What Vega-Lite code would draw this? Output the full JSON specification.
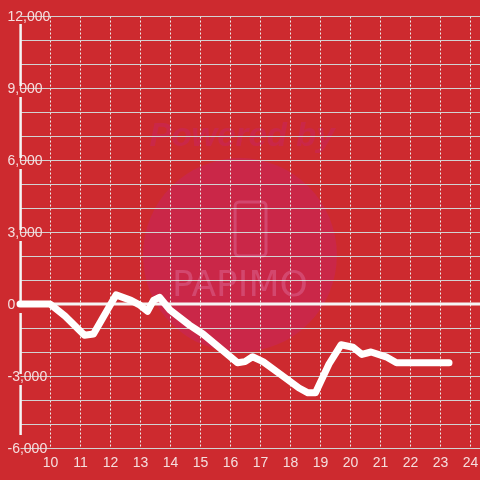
{
  "$schema": "https://vega.github.io/schema/vega-lite/v6.json",
  "width": 460,
  "height": 432,
  "autosize": {"type": "none"},
  "padding": {"left": 20, "top": 16, "right": 0, "bottom": 32},
  "background": "#cd2a2f",
  "config": {
    "view": {"stroke": null},
    "font": "Liberation Sans",
    "axis": {"labelFont": "Liberation Sans", "labelFontSize": 14, "labelColor": "#f5dede", "labelOverlap": false, "labelFlush": false, "domain": false, "ticks": false, "tickSize": 0, "title": null}
  },
  "datasets": {
    "series": [
      {"hour": 9, "value": 0},
      {"hour": 10, "value": 0},
      {"hour": 10.5, "value": -500},
      {"hour": 11.15, "value": -1300},
      {"hour": 11.45, "value": -1250},
      {"hour": 12.2, "value": 380},
      {"hour": 12.7, "value": 150},
      {"hour": 13.0, "value": -50},
      {"hour": 13.25, "value": -300},
      {"hour": 13.45, "value": 150},
      {"hour": 13.65, "value": 280},
      {"hour": 14.0, "value": -250},
      {"hour": 14.65, "value": -880},
      {"hour": 15.1, "value": -1250},
      {"hour": 16.25, "value": -2450},
      {"hour": 16.5, "value": -2400},
      {"hour": 16.75, "value": -2200},
      {"hour": 17.1, "value": -2400},
      {"hour": 17.7, "value": -2950},
      {"hour": 18.3, "value": -3500},
      {"hour": 18.6, "value": -3700},
      {"hour": 18.85, "value": -3700},
      {"hour": 19.3, "value": -2500},
      {"hour": 19.7, "value": -1700},
      {"hour": 20.1, "value": -1800},
      {"hour": 20.4, "value": -2100},
      {"hour": 20.7, "value": -2000},
      {"hour": 21.2, "value": -2200},
      {"hour": 21.55, "value": -2450},
      {"hour": 23.3, "value": -2450}
    ],
    "axisSegments": [
      {"from": 11667, "to": 9083},
      {"from": 8625, "to": 6083},
      {"from": 5625, "to": 3083},
      {"from": 2625, "to": 83},
      {"from": -375, "to": -2917},
      {"from": -3375, "to": -5458}
    ],
    "one": [{"k": 1}]
  },
  "layer": [
    {
      "data": {"name": "one"},
      "mark": {"type": "point", "filled": true, "shape": "circle", "size": 37600, "color": "#cd1e42", "opacity": 1, "blend": "hue"},
      "encoding": {
        "x": {"datum": 16.33, "type": "quantitative", "scale": {"domain": [9, 24.333], "nice": false, "zero": false},
          "axis": {"values": [10, 11, 12, 13, 14, 15, 16, 17, 18, 19, 20, 21, 22, 23, 24], "labelPadding": 7, "labelOverlap": false, "labelFlush": false,
            "grid": true, "gridColor": "#ececec", "gridDash": [2, 2], "gridWidth": 1}},
        "y": {"datum": 2040, "type": "quantitative", "scale": {"domain": [-6000, 12000], "nice": false, "zero": false},
          "axis": {"values": [-6000, -5000, -4000, -3000, -2000, -1000, 0, 1000, 2000, 3000, 4000, 5000, 6000, 7000, 8000, 9000, 10000, 11000, 12000],
            "labelExpr": "datum.value % 3000 == 0 ? replace(datum.label, '\u2212', '-') : ''",
            "labelAlign": "left", "labelPadding": 13, "labelOverlap": false, "labelFlush": false,
            "grid": true, "gridColor": "#d2d2d2", "gridWidth": 1}}
      }
    },
    {
      "data": {"name": "one"},
      "mark": {"type": "text", "text": "Powered by", "fontSize": 33, "fontWeight": "bold", "fontStyle": "italic", "color": "#cd1e42", "font": "Liberation Sans", "blend": "hue"},
      "encoding": {
        "x": {"datum": 16.4, "type": "quantitative",
          "axis": {"values": [10, 11, 12, 13, 14, 15, 16, 17, 18, 19, 20, 21, 22, 23, 24], "labelPadding": 7, "labelOverlap": false, "labelFlush": false,
            "grid": true, "gridColor": "#ececec", "gridDash": [2, 2], "gridWidth": 1}},
        "y": {"datum": 7000, "type": "quantitative",
          "axis": {"values": [-6000, -5000, -4000, -3000, -2000, -1000, 0, 1000, 2000, 3000, 4000, 5000, 6000, 7000, 8000, 9000, 10000, 11000, 12000],
            "labelExpr": "datum.value % 3000 == 0 ? replace(datum.label, '\u2212', '-') : ''",
            "labelAlign": "left", "labelPadding": 13, "labelOverlap": false, "labelFlush": false,
            "grid": true, "gridColor": "#d2d2d2", "gridWidth": 1}}
      }
    },
    {
      "data": {"name": "one"},
      "mark": {"type": "rect", "filled": false, "stroke": "#292635", "strokeWidth": 3, "cornerRadius": 4, "blend": "screen"},
      "encoding": {
        "x": {"datum": 16.17, "type": "quantitative",
          "axis": {"values": [10, 11, 12, 13, 14, 15, 16, 17, 18, 19, 20, 21, 22, 23, 24], "labelPadding": 7, "labelOverlap": false, "labelFlush": false,
            "grid": true, "gridColor": "#ececec", "gridDash": [2, 2], "gridWidth": 1}},
        "x2": {"datum": 17.2},
        "y": {"datum": 4250, "type": "quantitative",
          "axis": {"values": [-6000, -5000, -4000, -3000, -2000, -1000, 0, 1000, 2000, 3000, 4000, 5000, 6000, 7000, 8000, 9000, 10000, 11000, 12000],
            "labelExpr": "datum.value % 3000 == 0 ? replace(datum.label, '\u2212', '-') : ''",
            "labelAlign": "left", "labelPadding": 13, "labelOverlap": false, "labelFlush": false,
            "grid": true, "gridColor": "#d2d2d2", "gridWidth": 1}},
        "y2": {"datum": 2000}
      }
    },
    {
      "data": {"name": "one"},
      "mark": {"type": "text", "text": "PAPIMO", "fontSize": 36, "font": "DejaVu Sans", "color": "#292635", "blend": "screen"},
      "encoding": {
        "x": {"datum": 16.33, "type": "quantitative",
          "axis": {"values": [10, 11, 12, 13, 14, 15, 16, 17, 18, 19, 20, 21, 22, 23, 24], "labelPadding": 7, "labelOverlap": false, "labelFlush": false,
            "grid": true, "gridColor": "#ececec", "gridDash": [2, 2], "gridWidth": 1}},
        "y": {"datum": 800, "type": "quantitative",
          "axis": {"values": [-6000, -5000, -4000, -3000, -2000, -1000, 0, 1000, 2000, 3000, 4000, 5000, 6000, 7000, 8000, 9000, 10000, 11000, 12000],
            "labelExpr": "datum.value % 3000 == 0 ? replace(datum.label, '\u2212', '-') : ''",
            "labelAlign": "left", "labelPadding": 13, "labelOverlap": false, "labelFlush": false,
            "grid": true, "gridColor": "#d2d2d2", "gridWidth": 1}}
      }
    },
    {
      "data": {"name": "axisSegments"},
      "mark": {"type": "rule", "color": "#f5f5f5", "strokeWidth": 2.5},
      "encoding": {
        "x": {"datum": 9.02, "type": "quantitative",
          "axis": {"values": [10, 11, 12, 13, 14, 15, 16, 17, 18, 19, 20, 21, 22, 23, 24], "labelPadding": 7, "labelOverlap": false, "labelFlush": false,
            "grid": true, "gridColor": "#ececec", "gridDash": [2, 2], "gridWidth": 1}},
        "y": {"field": "from", "type": "quantitative",
          "axis": {"values": [-6000, -5000, -4000, -3000, -2000, -1000, 0, 1000, 2000, 3000, 4000, 5000, 6000, 7000, 8000, 9000, 10000, 11000, 12000],
            "labelExpr": "datum.value % 3000 == 0 ? replace(datum.label, '\u2212', '-') : ''",
            "labelAlign": "left", "labelPadding": 13, "labelOverlap": false, "labelFlush": false,
            "grid": true, "gridColor": "#d2d2d2", "gridWidth": 1}},
        "y2": {"field": "to"}
      }
    },
    {
      "data": {"name": "one"},
      "mark": {"type": "rule", "color": "#f5f5f5", "strokeWidth": 3},
      "encoding": {
        "x": {"datum": 9, "type": "quantitative",
          "axis": {"values": [10, 11, 12, 13, 14, 15, 16, 17, 18, 19, 20, 21, 22, 23, 24], "labelPadding": 7, "labelOverlap": false, "labelFlush": false,
            "grid": true, "gridColor": "#ececec", "gridDash": [2, 2], "gridWidth": 1}},
        "x2": {"datum": 24.333},
        "y": {"datum": 0, "type": "quantitative",
          "axis": {"values": [-6000, -5000, -4000, -3000, -2000, -1000, 0, 1000, 2000, 3000, 4000, 5000, 6000, 7000, 8000, 9000, 10000, 11000, 12000],
            "labelExpr": "datum.value % 3000 == 0 ? replace(datum.label, '\u2212', '-') : ''",
            "labelAlign": "left", "labelPadding": 13, "labelOverlap": false, "labelFlush": false,
            "grid": true, "gridColor": "#d2d2d2", "gridWidth": 1}}
      }
    },
    {
      "data": {"name": "series"},
      "mark": {"type": "line", "color": "#ffffff", "strokeWidth": 7, "strokeCap": "round", "strokeJoin": "round"},
      "encoding": {
        "x": {"field": "hour", "type": "quantitative",
          "axis": {"values": [10, 11, 12, 13, 14, 15, 16, 17, 18, 19, 20, 21, 22, 23, 24], "labelPadding": 7, "labelOverlap": false, "labelFlush": false,
            "grid": true, "gridColor": "#ececec", "gridDash": [2, 2], "gridWidth": 1}},
        "y": {"field": "value", "type": "quantitative",
          "axis": {"values": [-6000, -5000, -4000, -3000, -2000, -1000, 0, 1000, 2000, 3000, 4000, 5000, 6000, 7000, 8000, 9000, 10000, 11000, 12000],
            "labelExpr": "datum.value % 3000 == 0 ? replace(datum.label, '\u2212', '-') : ''",
            "labelAlign": "left", "labelPadding": 13, "labelOverlap": false, "labelFlush": false,
            "grid": true, "gridColor": "#d2d2d2", "gridWidth": 1}}
      }
    }
  ]
}
